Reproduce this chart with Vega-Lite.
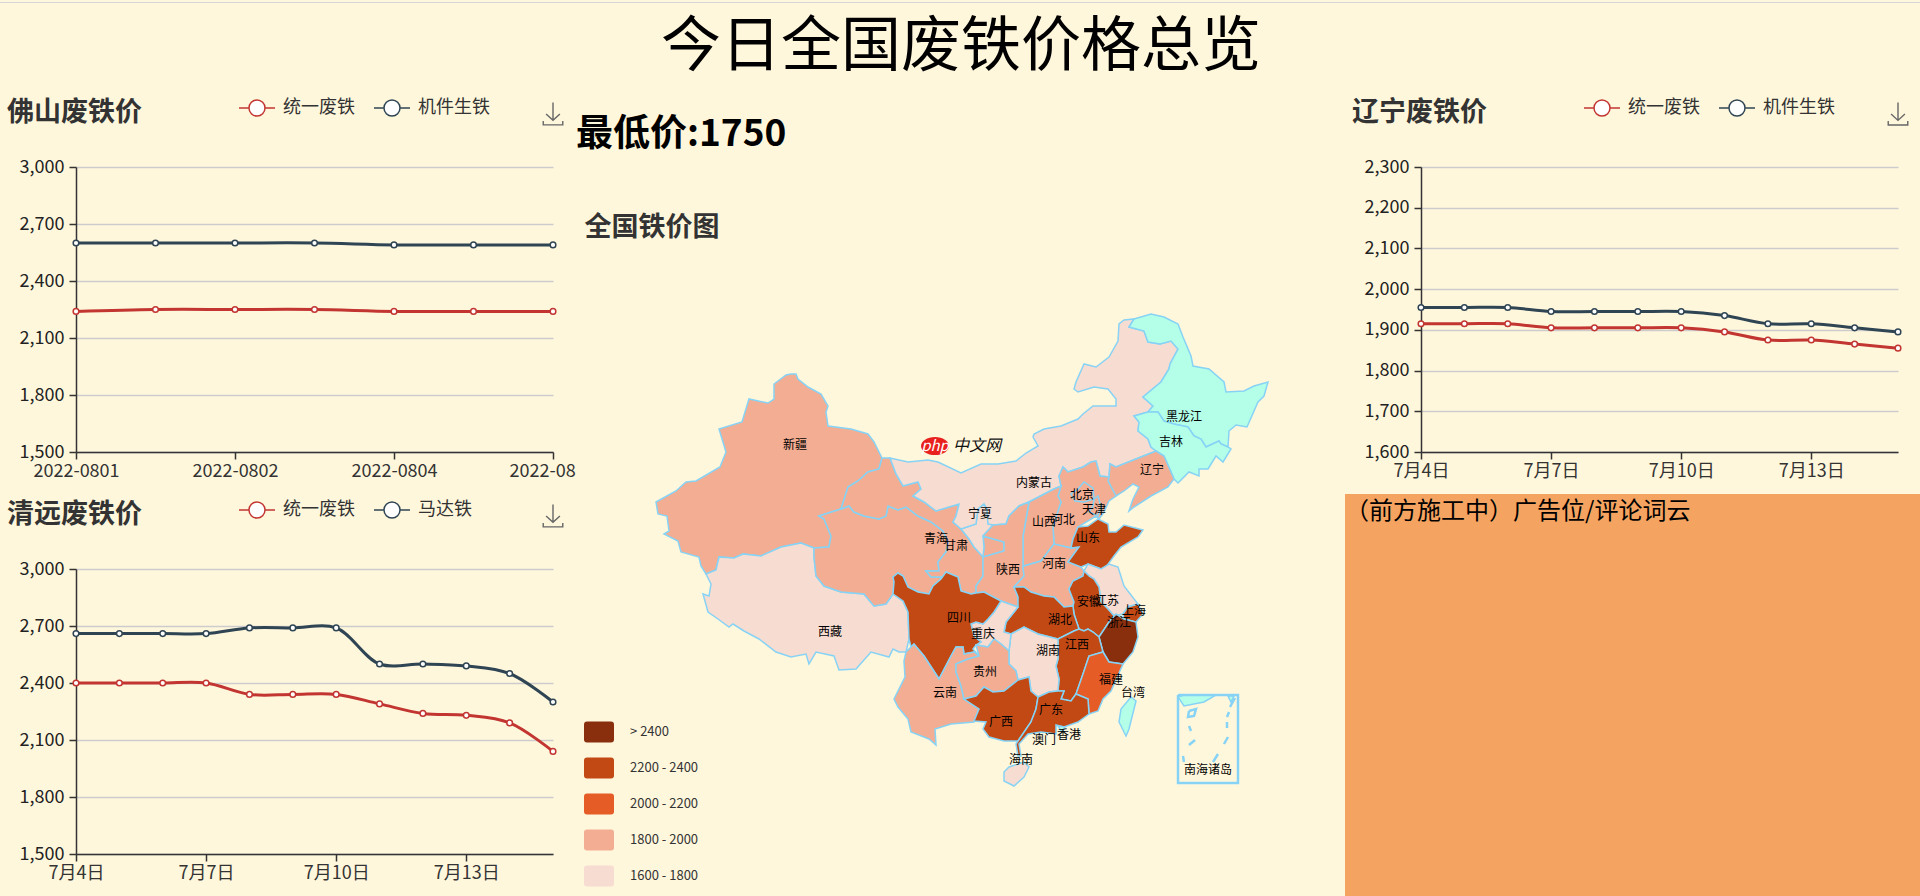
{"$schema":"https://vega.github.io/schema/vega-lite/v6.json","background":"#fff7dc","padding":{"left":0,"top":-4,"right":0,"bottom":0},"config":{"font":"Noto Sans CJK SC","view":{"stroke":null},"title":{"font":"Noto Sans CJK SC"},"axis":{"labelFont":"Noto Sans CJK SC"},"legend":{"labelFont":"Noto Sans CJK SC"},"concat":{"spacing":0}},
"datasets":{
"foshan":[{"d":"2022-0801","s":"统一废铁","p":2240},{"d":"2022-0801-2","s":"统一废铁","p":2250},{"d":"2022-0802","s":"统一废铁","p":2250},{"d":"2022-0803","s":"统一废铁","p":2250},{"d":"2022-0804","s":"统一废铁","p":2240},{"d":"2022-0805","s":"统一废铁","p":2240},{"d":"2022-0806","s":"统一废铁","p":2240},{"d":"2022-0801","s":"机件生铁","p":2600},{"d":"2022-0801-2","s":"机件生铁","p":2600},{"d":"2022-0802","s":"机件生铁","p":2600},{"d":"2022-0803","s":"机件生铁","p":2600},{"d":"2022-0804","s":"机件生铁","p":2590},{"d":"2022-0805","s":"机件生铁","p":2590},{"d":"2022-0806","s":"机件生铁","p":2590}],
"qingyuan":[{"d":"7月4日","s":"统一废铁","p":2400},{"d":"7月5日","s":"统一废铁","p":2400},{"d":"7月6日","s":"统一废铁","p":2400},{"d":"7月7日","s":"统一废铁","p":2400},{"d":"7月8日","s":"统一废铁","p":2340},{"d":"7月9日","s":"统一废铁","p":2340},{"d":"7月10日","s":"统一废铁","p":2340},{"d":"7月11日","s":"统一废铁","p":2290},{"d":"7月12日","s":"统一废铁","p":2240},{"d":"7月13日","s":"统一废铁","p":2230},{"d":"7月14日","s":"统一废铁","p":2190},{"d":"7月15日","s":"统一废铁","p":2040},{"d":"7月4日","s":"马达铁","p":2660},{"d":"7月5日","s":"马达铁","p":2660},{"d":"7月6日","s":"马达铁","p":2660},{"d":"7月7日","s":"马达铁","p":2660},{"d":"7月8日","s":"马达铁","p":2690},{"d":"7月9日","s":"马达铁","p":2690},{"d":"7月10日","s":"马达铁","p":2690},{"d":"7月11日","s":"马达铁","p":2500},{"d":"7月12日","s":"马达铁","p":2500},{"d":"7月13日","s":"马达铁","p":2490},{"d":"7月14日","s":"马达铁","p":2450},{"d":"7月15日","s":"马达铁","p":2300}],
"liaoning":[{"d":"7月4日","s":"统一废铁","p":1915},{"d":"7月5日","s":"统一废铁","p":1915},{"d":"7月6日","s":"统一废铁","p":1915},{"d":"7月7日","s":"统一废铁","p":1905},{"d":"7月8日","s":"统一废铁","p":1905},{"d":"7月9日","s":"统一废铁","p":1905},{"d":"7月10日","s":"统一废铁","p":1905},{"d":"7月11日","s":"统一废铁","p":1895},{"d":"7月12日","s":"统一废铁","p":1875},{"d":"7月13日","s":"统一废铁","p":1875},{"d":"7月14日","s":"统一废铁","p":1865},{"d":"7月15日","s":"统一废铁","p":1855},{"d":"7月4日","s":"机件生铁","p":1955},{"d":"7月5日","s":"机件生铁","p":1955},{"d":"7月6日","s":"机件生铁","p":1955},{"d":"7月7日","s":"机件生铁","p":1945},{"d":"7月8日","s":"机件生铁","p":1945},{"d":"7月9日","s":"机件生铁","p":1945},{"d":"7月10日","s":"机件生铁","p":1945},{"d":"7月11日","s":"机件生铁","p":1935},{"d":"7月12日","s":"机件生铁","p":1915},{"d":"7月13日","s":"机件生铁","p":1915},{"d":"7月14日","s":"机件生铁","p":1905},{"d":"7月15日","s":"机件生铁","p":1895}],
"provinces":[
{"type":"Feature","properties":{"name":"新疆","range":"1800 - 2000"},"geometry":{"type":"Polygon","coordinates":[[[87.1,65.3],[86.6,65.2],[85.4,64.3],[85.4,62.8],[84.8,62.4],[82.9,62.8],[82.2,60.5],[79.9,59.8],[80.6,57.5],[80,56],[77.6,54.6],[76.6,54.5],[75.6,53.6],[73.6,52.5],[73.8,51.3],[74.7,51.1],[74.9,49.6],[74.4,49.3],[75.8,48.6],[76.1,47.5],[77.9,47],[78.1,46.1],[78.6,45.3],[79.6,45.7],[79.9,47],[81.4,46.9],[82.3,47.3],[84.1,47.1],[86.1,48],[88.1,48.4],[89.4,47.9],[90.9,48],[91.1,49.1],[90.4,50.8],[89.9,51.1],[92.1,51.8],[92.8,54],[93.8,54.6],[94.8,55.5],[95.9,55.8],[96.2,56.9],[95.4,58.5],[94.8,59.3],[93.1,59.8],[90.8,60.1],[90.6,61.5],[90.8,62.1],[90.1,63.3],[88.8,64],[87.8,64.8],[87.6,65.3],[87.1,65.3]]]}},
{"type":"Feature","properties":{"name":"西藏","range":"1600 - 1800"},"geometry":{"type":"Polygon","coordinates":[[[78.6,45.3],[79.6,45.7],[79.9,47],[81.4,46.9],[82.3,47.3],[84.1,47.1],[86.1,48],[88.1,48.4],[89.4,47.9],[89.4,47],[89.6,45.1],[90.4,44.1],[92.1,43.5],[94.4,43.3],[95.4,42.1],[96.6,42.3],[97.3,43.3],[98.3,42.6],[98.8,41.5],[98.9,38.8],[98.6,37.5],[97.9,37.5],[97.3,37.8],[96.9,37],[95.1,37.5],[93.6,35.8],[91.9,35.7],[91.4,37.1],[89.6,37.5],[88.9,36.3],[88.6,37.3],[87.1,37],[85.6,37.5],[83.9,38.8],[82.4,39.6],[81.3,40.3],[80.9,40],[79.8,40.8],[78.8,41.5],[78.3,43.3],[78.9,43.1],[79.1,44.3],[78.6,45.3]]]}},
{"type":"Feature","properties":{"name":"青海","range":"1800 - 2000"},"geometry":{"type":"Polygon","coordinates":[[[89.9,51.1],[92.1,51.8],[92.9,52.1],[93.4,51.5],[94.4,51.1],[95.9,50.8],[96.6,51.1],[96.8,52.1],[97.8,51.7],[98.6,52],[99.8,51.1],[101.1,50.5],[102.3,49.6],[102.8,48.5],[102.6,47.5],[101.8,46.5],[101.9,45.6],[100.6,45.6],[101.1,45],[102.3,45],[102.6,45.5],[102.1,44.8],[101.3,44.1],[100.9,43.3],[99.8,43.5],[98.8,44],[98.3,45.1],[97.8,45.4],[97.3,45],[97.4,44.5],[97.3,43.3],[96.6,42.3],[95.4,42.1],[94.4,43.3],[92.1,43.5],[90.4,44.1],[89.6,45.1],[89.4,47],[89.4,47.9],[90.9,48],[91.1,49.1],[90.4,50.8],[89.9,51.1]]]}},
{"type":"Feature","properties":{"name":"甘肃","range":"1800 - 2000"},"geometry":{"type":"Polygon","coordinates":[[[96.2,56.9],[97,56.9],[97.6,55.3],[98.3,54.1],[99.8,54.5],[100.1,53.8],[99.3,53.1],[100.4,52.5],[101.6,51.6],[102.9,52],[103.9,52.3],[103.6,51.1],[103.3,50.5],[104.1,49.8],[104.9,48.8],[105.4,48],[106.3,47],[106.4,48],[106.3,49.1],[108.4,48.5],[108.4,47.6],[106.3,47],[106.3,45.1],[105.6,44.1],[105.6,43.4],[105.1,43.3],[104.1,43.6],[103.8,45],[102.6,45.5],[102.3,45],[101.1,45],[100.6,45.6],[101.9,45.6],[101.8,46.5],[102.6,47.5],[102.8,48.5],[102.3,49.6],[101.1,50.5],[99.8,51.1],[98.6,52],[97.8,51.7],[96.8,52.1],[96.6,51.1],[95.9,50.8],[94.4,51.1],[93.4,51.5],[92.9,52.1],[92.1,51.8],[92.8,54],[93.8,54.6],[94.8,55.5],[95.9,55.8],[96.2,56.9]]]}},
{"type":"Feature","properties":{"name":"宁夏","range":"1600 - 1800"},"geometry":{"type":"Polygon","coordinates":[[[106.4,52.3],[106.7,51.8],[106.8,50.3],[107.3,50.2],[106.3,49.1],[106.4,48],[106.3,47],[105.4,48],[104.9,48.8],[104.1,49.8],[105.6,50.3],[105.8,51.8],[106.4,52.3]]]}},
{"type":"Feature","properties":{"name":"内蒙古","range":"1600 - 1800"},"geometry":{"type":"Polygon","coordinates":[[[123.6,57.6],[123.1,58],[122.8,58.8],[121.8,59.6],[121.9,60.5],[121.4,61.1],[122.8,61.5],[123.3,62.1],[122.3,63],[124.1,64.5],[124.9,65.8],[125,66.3],[125.8,67.8],[125.1,68.6],[124,68.3],[122.8,68.5],[122.4,69.6],[120.9,70],[121.4,70.8],[120.4,70.7],[119.9,70.3],[119.8,68.6],[118.9,67],[117.6,66],[116.4,66.3],[115.6,64.5],[115.4,63.8],[115.8,63.5],[117.4,64],[118.8,63.8],[119.6,62.8],[119.6,62.1],[118.8,62.1],[117.3,62.1],[116.3,61.3],[115.8,60.8],[114.1,60.1],[112.4,59.8],[111.4,59.3],[111.3,59],[111.8,58.1],[110.6,57.4],[109.6,56.6],[107.8,56.3],[106.1,56.3],[104.1,55.4],[101.8,56.5],[100.8,56.7],[98.8,56.5],[97,56.9],[97.6,55.3],[98.3,54.1],[99.8,54.5],[100.1,53.8],[99.3,53.1],[100.4,52.5],[101.6,51.6],[102.9,52],[103.9,52.3],[103.6,51.1],[103.3,50.5],[104.1,49.8],[105.6,50.3],[105.8,51.8],[106.4,52.3],[106.7,51.8],[106.8,50.3],[107.3,50.2],[108.6,50.3],[108.9,51.1],[109.9,52.1],[110.9,52.5],[113.4,53.8],[114.1,54.1],[113.9,55.1],[114.3,56],[114.8,55.5],[116.3,56],[117.1,56.5],[117.6,56.6],[118,55.1],[118.9,55],[119,56.3],[119.6,56],[121.6,56.8],[123.6,57.6]]]}},
{"type":"Feature","properties":{"name":"黑龙江","range":"无数据"},"geometry":{"type":"Polygon","coordinates":[[[121.4,70.8],[123.1,71.3],[124.4,71],[125.8,70.3],[126.3,69],[127.1,67.1],[127.3,66.1],[128.9,65.8],[130.4,64.5],[130.6,63.5],[132.4,63.6],[133.4,64.1],[134.8,64.5],[134.4,63.1],[133.8,62.5],[132.7,60],[131.6,60.2],[130.9,59.6],[130.8,58],[130.1,58.3],[129.9,58.6],[128.6,58],[128.1,58.8],[127.4,59.1],[126.8,60],[125.4,60.3],[124.4,60.6],[123.8,61.5],[122.8,61.5],[123.3,62.1],[122.3,63],[124.1,64.5],[124.9,65.8],[125,66.3],[125.8,67.8],[125.1,68.6],[124,68.3],[122.8,68.5],[122.4,69.6],[120.9,70],[121.4,70.8]]]}},
{"type":"Feature","properties":{"name":"吉林","range":"无数据"},"geometry":{"type":"Polygon","coordinates":[[[122.8,61.5],[123.8,61.5],[124.4,60.6],[125.4,60.3],[126.8,60],[127.4,59.1],[128.1,58.8],[128.6,58],[129.9,58.6],[130.1,58.3],[130.8,58],[131.1,57.8],[130.3,56.5],[129.6,57.1],[128.8,55.8],[127.9,55.8],[127.9,55.1],[126.9,55.5],[125.8,54.4],[125.4,54.8],[124.4,57.1],[123.6,57.6],[123.1,58],[122.8,58.8],[121.8,59.6],[121.9,60.5],[121.4,61.1],[122.8,61.5]]]}},
{"type":"Feature","properties":{"name":"辽宁","range":"1800 - 2000"},"geometry":{"type":"Polygon","coordinates":[[[123.6,57.6],[124.4,57.1],[125.4,54.8],[124.8,54],[123.1,53.1],[121.4,52],[120.9,51.6],[121.3,52.8],[121.9,54],[121.3,54.3],[120.4,53.6],[119.6,53.1],[118.8,54.6],[118.9,55],[119,56.3],[119.6,56],[121.6,56.8],[123.6,57.6]]]}},
{"type":"Feature","properties":{"name":"河北","range":"1800 - 2000"},"geometry":{"type":"Polygon","coordinates":[[[117.1,56.5],[117.6,56.6],[118,55.1],[118.9,55],[118.8,54.6],[119.6,53.1],[118.9,52.6],[118.4,51.5],[117.9,50.8],[117.6,51.1],[115.8,50],[115.3,48.8],[115.1,47.9],[113.4,48.3],[113.3,50.1],[114.1,52.5],[113.8,53.1],[114.1,54.1],[113.9,55.1],[114.3,56],[114.8,55.5],[116.3,56],[117.1,56.5]]]}},
{"type":"Feature","properties":{"name":"北京","range":"1800 - 2000"},"geometry":{"type":"Polygon","coordinates":[[[115.8,53.8],[116.4,54.5],[117.3,53.9],[117.4,52.8],[116.4,52.5],[115.5,52.6],[115.1,53.3],[115.8,53.8]]]}},
{"type":"Feature","properties":{"name":"天津","range":"1800 - 2000"},"geometry":{"type":"Polygon","coordinates":[[[117.4,52.8],[117.8,53.1],[118.1,52],[117.8,51.1],[116.9,51.5],[117.3,52.1],[117.4,52.8]]]}},
{"type":"Feature","properties":{"name":"山西","range":"1800 - 2000"},"geometry":{"type":"Polygon","coordinates":[[[110.9,52.5],[113.4,53.8],[114.1,54.1],[113.8,53.1],[114.1,52.5],[113.3,50.1],[113.4,48.3],[112.1,46.6],[110.4,46.1],[110.3,46],[110.3,49.1],[110.9,52.5]]]}},
{"type":"Feature","properties":{"name":"陕西","range":"1800 - 2000"},"geometry":{"type":"Polygon","coordinates":[[[110.9,52.5],[109.9,52.1],[108.9,51.1],[108.6,50.3],[107.3,50.2],[106.3,49.1],[108.4,48.5],[108.4,47.6],[106.3,47],[106.3,45.1],[105.6,44.1],[105.6,43.4],[106.4,43.5],[108.1,42.6],[109.8,42],[109.8,43],[109.4,44],[110.4,45.1],[110.3,46],[110.3,49.1],[110.9,52.5]]]}},
{"type":"Feature","properties":{"name":"河南","range":"1800 - 2000"},"geometry":{"type":"Polygon","coordinates":[[[110.3,46],[110.4,46.1],[112.1,46.6],[113.4,48.3],[115.1,47.9],[115.9,48],[114.8,46.5],[116.1,46],[116.4,45.6],[116.3,45.1],[115.3,44.6],[114.9,43.8],[115.4,42.5],[115.3,42.1],[114.4,42],[113.4,43],[112.4,43.1],[111.1,43.5],[110.4,44],[109.4,44],[110.4,45.1],[110.3,46]]]}},
{"type":"Feature","properties":{"name":"山东","range":"2200 - 2400"},"geometry":{"type":"Polygon","coordinates":[[[117.8,50.8],[118.8,50.3],[118.9,49.5],[119.6,49.5],[120.4,50.2],[122.3,49.7],[121.8,49],[120.1,48],[119.4,47.1],[118.6,46],[118.1,45.8],[116.8,46.3],[116.1,46],[114.8,46.5],[115.9,48],[115.1,47.9],[115.3,48.8],[115.8,50],[116.8,50.1],[117.8,50.8]]]}},
{"type":"Feature","properties":{"name":"江苏","range":"1600 - 1800"},"geometry":{"type":"Polygon","coordinates":[[[116.4,45.6],[116.8,46.3],[118.1,45.8],[118.9,46.3],[119.8,46],[120.4,44.1],[121.8,42.3],[120.8,42],[120.3,41.3],[119.4,41.1],[118.8,41.8],[118.1,42.5],[117.9,44],[117.4,44.8],[116.9,45.1],[116.4,45.6]]]}},
{"type":"Feature","properties":{"name":"上海","range":"2200 - 2400"},"geometry":{"type":"Polygon","coordinates":[[[120.3,41.3],[120.8,42],[121.8,42.3],[122.3,41.3],[121.6,40.5],[120.4,40.8],[120.3,41.3]]]}},
{"type":"Feature","properties":{"name":"安徽","range":"2200 - 2400"},"geometry":{"type":"Polygon","coordinates":[[[116.4,45.6],[116.9,45.1],[117.4,44.8],[117.9,44],[118.1,42.5],[118.8,41.8],[119.4,41.1],[119.6,41.3],[118.9,40.5],[117.9,39],[117.3,39.5],[116.8,39.8],[116.4,39.6],[115.9,39.8],[115.4,41.3],[115.3,42.1],[115.4,42.5],[114.9,43.8],[115.3,44.6],[116.3,45.1],[116.4,45.6]]]}},
{"type":"Feature","properties":{"name":"湖北","range":"2200 - 2400"},"geometry":{"type":"Polygon","coordinates":[[[109.8,42],[109.8,43],[109.4,44],[110.4,44],[111.1,43.5],[112.4,43.1],[113.4,43],[114.4,42],[115.3,42.1],[115.4,41.3],[115.9,39.8],[115.4,39.6],[113.8,38.8],[111.8,39.3],[110.4,40],[109.1,39.3],[108.4,39.5],[108.6,40.5],[109.8,42]]]}},
{"type":"Feature","properties":{"name":"浙江","range":"> 2400"},"geometry":{"type":"Polygon","coordinates":[[[117.9,39],[118.9,40.5],[119.6,41.3],[120.4,40.8],[121.6,40.5],[121.8,39],[121.3,37.5],[120.3,36.3],[118.9,36.5],[118.3,37.5],[117.9,39]]]}},
{"type":"Feature","properties":{"name":"江西","range":"2200 - 2400"},"geometry":{"type":"Polygon","coordinates":[[[113.8,38.8],[115.4,39.6],[115.9,39.8],[116.4,39.6],[116.8,39.8],[117.3,39.5],[117.9,39],[118.3,37.5],[116.9,37.1],[116.3,35.3],[115.6,33.3],[115.1,32.6],[114.1,32.8],[114.4,33.6],[113.8,33.6],[113.9,34.8],[113.6,36.1],[113.8,36.8],[113.8,38.8]]]}},
{"type":"Feature","properties":{"name":"福建","range":"2000 - 2200"},"geometry":{"type":"Polygon","coordinates":[[[118.3,37.5],[118.9,36.5],[120.3,36.3],[119.1,33.6],[118.3,32.8],[117.8,31.6],[116.9,31.3],[116.8,32.8],[115.6,33.3],[116.3,35.3],[116.9,37.1],[118.3,37.5]]]}},
{"type":"Feature","properties":{"name":"湖南","range":"1600 - 1800"},"geometry":{"type":"Polygon","coordinates":[[[109.1,39.3],[110.4,40],[111.8,39.3],[113.8,38.8],[113.8,36.8],[113.6,36.1],[113.9,34.8],[113.8,33.6],[112.9,33.5],[111.8,33],[111.1,33.6],[110.9,35],[109.8,34.7],[109.6,35.6],[108.9,36.3],[108.9,37.6],[109.1,39.3]]]}},
{"type":"Feature","properties":{"name":"重庆","range":"1600 - 1800"},"geometry":{"type":"Polygon","coordinates":[[[108.1,42.6],[109.8,42],[108.6,40.5],[108.4,39.5],[109.1,39.3],[108.9,37.6],[108.1,38.3],[107.4,38.8],[106.8,38],[105.6,38.2],[106.1,38.5],[105.4,39.1],[105.1,40.3],[105.6,40.5],[106.3,40.3],[106.8,40.8],[107.4,41.5],[108.1,42.6]]]}},
{"type":"Feature","properties":{"name":"四川","range":"2200 - 2400"},"geometry":{"type":"Polygon","coordinates":[[[97.3,43.3],[97.4,44.5],[97.3,45],[97.8,45.4],[98.3,45.1],[98.8,44],[99.8,43.5],[100.9,43.3],[101.3,44.1],[102.1,44.8],[102.6,45.5],[103.8,45],[104.1,43.6],[105.1,43.3],[105.6,43.4],[106.4,43.5],[108.1,42.6],[107.4,41.5],[106.8,40.8],[106.3,40.3],[105.6,40.5],[105.1,40.3],[105.4,39.1],[106.1,38.5],[105.6,38.2],[105.3,37.8],[105.9,37.1],[105.4,37.5],[104.4,37.3],[104.3,38],[103.6,38],[103.1,37.1],[101.9,34.8],[100.4,37.1],[99.4,38.3],[99.1,38],[98.9,38.8],[98.8,41.5],[98.3,42.6],[97.3,43.3]]]}},
{"type":"Feature","properties":{"name":"云南","range":"1800 - 2000"},"geometry":{"type":"Polygon","coordinates":[[[99.1,38],[98.6,37.5],[98.4,36.6],[98.5,35],[97.4,32.8],[97.8,32],[98.8,30.8],[99.1,29.5],[100.9,28.8],[101.6,28.2],[101.5,29.8],[103.1,30.3],[105.4,30.5],[105.9,31.8],[104.4,32.8],[104.1,34.1],[103.6,35.5],[103.6,36.3],[104.8,36.8],[105.9,37.1],[105.4,37.5],[104.4,37.3],[104.3,38],[103.6,38],[103.1,37.1],[101.9,34.8],[100.4,37.1],[99.4,38.3],[99.1,38]]]}},
{"type":"Feature","properties":{"name":"贵州","range":"1800 - 2000"},"geometry":{"type":"Polygon","coordinates":[[[105.9,37.1],[105.6,38.2],[106.8,38],[107.4,38.8],[108.1,38.3],[108.9,37.6],[108.9,36.3],[109.6,35.6],[109.8,34.7],[108.4,33.6],[107.3,33.5],[106.4,34],[105.6,33.1],[104.4,32.8],[104.1,34.1],[103.6,35.5],[103.6,36.3],[104.8,36.8],[105.9,37.1]]]}},
{"type":"Feature","properties":{"name":"广西","range":"2200 - 2400"},"geometry":{"type":"Polygon","coordinates":[[[104.4,32.8],[105.6,33.1],[106.4,34],[107.3,33.5],[108.4,33.6],[109.8,34.7],[110.9,35],[111.1,33.6],[111.8,33],[111.6,31.8],[111.1,30.5],[109.8,28.6],[108.4,28.6],[106.9,29],[106.3,29.8],[106.6,30.5],[105.4,30.6],[105.9,31.8],[104.4,32.8]]]}},
{"type":"Feature","properties":{"name":"广东","range":"2200 - 2400"},"geometry":{"type":"Polygon","coordinates":[[[111.8,33],[112.9,33.5],[113.8,33.6],[114.4,33.6],[114.1,32.8],[115.1,32.6],[115.6,33.3],[116.8,32.8],[116.9,31.3],[115.8,30.5],[114.4,30],[113.6,30.2],[113.6,29.3],[112.1,29.5],[110.8,29.3],[109.9,28.3],[110.1,27.1],[109.8,27.1],[109.6,28.3],[109.8,28.6],[111.1,30.5],[111.6,31.8],[111.8,33]]]}},
{"type":"Feature","properties":{"name":"海南","range":"1600 - 1800"},"geometry":{"type":"Polygon","coordinates":[[[108.9,26],[110.4,26.5],[110.9,26],[110.4,25],[109.4,24.1],[108.4,24.6],[108.4,25.5],[108.9,26]]]}},
{"type":"Feature","properties":{"name":"台湾","range":"无数据"},"geometry":{"type":"Polygon","coordinates":[[[121.1,33],[121.6,32.6],[120.9,29.8],[120.6,29.1],[119.9,30.5],[120.1,31.8],[121.1,33]]]}},
{"type":"Feature","properties":{"name":"香港","range":"无数据"},"geometry":{"type":"Polygon","coordinates":[[[113.8,30.1],[114.5,30],[114.2,29.5],[113.8,30.1]]]}},
{"type":"Feature","properties":{"name":"南海诸岛","range":"无数据"},"geometry":{"type":"MultiPolygon","coordinates":[[[[125.8,33],[126.4,33.2],[129.6,33.2],[128.4,32.5],[126.4,32.1],[125.8,33]]],[[[130.8,33.1],[131.4,33.1],[131.1,32.5],[130.8,33.1]]]]}}
],
"sealines":[{"type":"Feature","properties":{"name":"框"},"geometry":{"type":"LineString","coordinates":[[125.8,33.2],[131.8,33.2],[131.8,24.4],[125.8,24.4],[125.8,33.2]]}},
{"type":"Feature","properties":{"name":"岛"},"geometry":{"type":"MultiLineString","coordinates":[[[126.9,31.6],[127.6,31.8],[127.4,31.1],[126.8,31],[126.9,31.6]],[[126.9,30.1],[127.1,29.6]],[[127.5,28.7],[126.9,28.2]],[[126.3,27.1],[126.4,26.5]],[[129.8,27.3],[129.3,26.5]],[[131.5,32.9],[131,32]],[[130.9,31.5],[130.7,31]],[[130.7,30.5],[130.7,29.9]],[[130.8,29],[130.4,28.3]]]}}],
"labels":[{"name":"新疆","lon":87.5,"lat":58.2},{"name":"青海","lon":101.6,"lat":48.8},{"name":"甘肃","lon":103.6,"lat":48.1},{"name":"宁夏","lon":106,"lat":51.3},{"name":"内蒙古","lon":111.4,"lat":54.4},{"name":"北京","lon":116.2,"lat":53.2},{"name":"天津","lon":117.4,"lat":51.7},{"name":"山西","lon":112.4,"lat":50.5},{"name":"河北","lon":114.3,"lat":50.7},{"name":"山东","lon":116.8,"lat":48.9},{"name":"河南","lon":113.4,"lat":46.3},{"name":"陕西","lon":108.8,"lat":45.7},{"name":"辽宁","lon":123.2,"lat":55.7},{"name":"吉林","lon":125.1,"lat":58.5},{"name":"黑龙江","lon":126.4,"lat":61},{"name":"西藏","lon":91,"lat":39.5},{"name":"四川","lon":103.9,"lat":40.9},{"name":"重庆","lon":106.3,"lat":39.3},{"name":"贵州","lon":106.5,"lat":35.5},{"name":"云南","lon":102.5,"lat":33.4},{"name":"广西","lon":108.1,"lat":30.5},{"name":"广东","lon":113.1,"lat":31.7},{"name":"澳门","lon":112.4,"lat":28.7},{"name":"香港","lon":114.9,"lat":29.2},{"name":"海南","lon":110.1,"lat":26.7},{"name":"台湾","lon":121.3,"lat":33.4},{"name":"福建","lon":119.1,"lat":34.7},{"name":"江西","lon":115.7,"lat":38.2},{"name":"湖南","lon":112.8,"lat":37.6},{"name":"湖北","lon":114,"lat":40.7},{"name":"安徽","lon":116.9,"lat":42.5},{"name":"江苏","lon":118.7,"lat":42.6},{"name":"上海","lon":121.4,"lat":41.6},{"name":"浙江","lon":119.9,"lat":40.4},{"name":"南海诸岛","lon":128.8,"lat":25.7}]
},
"bounds":"flush","spacing":164,"resolve":{"scale":{"stroke":"independent","color":"independent"},"legend":{"stroke":"independent","color":"independent"}},
"vconcat":[
{"width":1920,"height":1,"view":{"fill":"#d4d4da","stroke":null},"title":{"text":"今日全国废铁价格总览","orient":"bottom","anchor":"middle","fontSize":60,"fontWeight":"normal","color":"#000","offset":11,"dx":1},"data":{"values":[{"t":""}]},"mark":{"type":"text"},"encoding":{"text":{"field":"t"}}},
{"spacing":0,"resolve":{"scale":{"stroke":"independent","color":"independent"},"legend":{"stroke":"independent","color":"independent"}},"hconcat":[
{"width":7,"height":10,"data":{"values":[{"t":""}]},"mark":{"type":"text"},"encoding":{"text":{"field":"t"}}},
{"bounds":"flush","spacing":117,"resolve":{"scale":{"stroke":"independent","color":"independent"},"legend":{"stroke":"independent","color":"independent"}},"vconcat":[
{"width":477,"height":285,"title":{"text":"佛山废铁价","anchor":"start","frame":"group","dx":-69,"offset":4,"dy":32,"fontSize":27,"fontWeight":"bold","color":"#333"},
"layer":[
{"data":{"name":"foshan"},"mark":{"type":"line","interpolate":"catmull-rom","strokeWidth":3},"encoding":{"x":{"field":"d","type":"ordinal","scale":{"type":"point","padding":0,"domain":["2022-0801","2022-0801-2","2022-0802","2022-0803","2022-0804","2022-0805","2022-0806"]},"axis":{"values":["2022-0801","2022-0802","2022-0804","2022-0806"],"labelExpr":"datum.value === '2022-0806' ? '2022-08' : datum.label","labelAlign":{"condition":{"test":"datum.value === '2022-0806'","value":"left"},"value":"center"},"labelOffset":{"condition":{"test":"datum.value === '2022-0806'","value":-44},"value":0},"title":null,"labelAngle":0,"labelFontSize":18,"labelColor":"#333","domainColor":"#333","domainWidth":1.5,"tickColor":"#333","tickWidth":1.5,"tickSize":7,"labelPadding":3,"grid":false,"labelOverlap":false,"labelBound":false}},"y":{"field":"p","type":"quantitative","scale":{"domain":[1500,3000],"nice":false,"zero":false},"axis":{"values":[1500,1800,2100,2400,2700,3000],"format":",d","title":null,"labelFontSize":18,"labelColor":"#222","domainColor":"#333","domainWidth":1.5,"tickColor":"#333","tickWidth":1.5,"tickSize":7,"labelPadding":5,"grid":true,"gridColor":"#ccc","gridWidth":1.5}},"stroke":{"field":"s","type":"nominal","scale":{"domain":["统一废铁","机件生铁"],"range":["#c23531","#2f4554"]},"legend":{"orient":"none","legendX":172,"legendY":-68,"direction":"horizontal","title":null,"labelFontSize":18,"labelColor":"#333","labelOffset":17,"columnPadding":16,"symbolSize":256,"symbolStrokeWidth":1.5,"symbolFillColor":"#fff","symbolType":"M-2.25,0H-1M1,0H2.25M1,0A1,1 0 1 1 -1,0A1,1 0 1 1 1,0","padding":0}}}},
{"data":{"name":"foshan"},"mark":{"type":"point","filled":false,"fill":"#fff","size":32,"strokeWidth":1.5,"opacity":1},"encoding":{"x":{"field":"d","type":"ordinal"},"y":{"field":"p","type":"quantitative"},"stroke":{"field":"s","type":"nominal","legend":null}}},
{"data":{"values":[{"t":"下载"}]},"mark":{"type":"point","shape":"M0,-1V0.5M-0.6,0L0,0.55L0.6,0M-0.85,0.6V0.95H0.85V0.6","size":529,"fill":null,"stroke":"#666","strokeWidth":1.4,"opacity":1},"encoding":{"x":{"datum":"2022-0806"},"y":{"datum":3279}}}
]},
{"width":477,"height":285,"title":{"text":"清远废铁价","anchor":"start","frame":"group","dx":-69,"offset":4,"dy":32,"fontSize":27,"fontWeight":"bold","color":"#333"},
"layer":[
{"data":{"name":"qingyuan"},"mark":{"type":"line","interpolate":"catmull-rom","strokeWidth":3},"encoding":{"x":{"field":"d","type":"ordinal","scale":{"type":"point","padding":0.0001,"domain":["7月4日","7月5日","7月6日","7月7日","7月8日","7月9日","7月10日","7月11日","7月12日","7月13日","7月14日","7月15日"]},"axis":{"values":["7月4日","7月7日","7月10日","7月13日"],"title":null,"labelAngle":0,"labelFontSize":18,"labelColor":"#333","domainColor":"#333","domainWidth":1.5,"tickColor":"#333","tickWidth":1.5,"tickSize":7,"labelPadding":3,"grid":false,"labelOverlap":false,"labelBound":false}},"y":{"field":"p","type":"quantitative","scale":{"domain":[1500,3000],"nice":false,"zero":false},"axis":{"values":[1500,1800,2100,2400,2700,3000],"format":",d","title":null,"labelFontSize":18,"labelColor":"#222","domainColor":"#333","domainWidth":1.5,"tickColor":"#333","tickWidth":1.5,"tickSize":7,"labelPadding":5,"grid":true,"gridColor":"#ccc","gridWidth":1.5}},"stroke":{"field":"s","type":"nominal","scale":{"domain":["统一废铁","马达铁"],"range":["#c23531","#2f4554"]},"legend":{"orient":"none","legendX":172,"legendY":-68,"direction":"horizontal","title":null,"labelFontSize":18,"labelColor":"#333","labelOffset":17,"columnPadding":16,"symbolSize":256,"symbolStrokeWidth":1.5,"symbolFillColor":"#fff","symbolType":"M-2.25,0H-1M1,0H2.25M1,0A1,1 0 1 1 -1,0A1,1 0 1 1 1,0","padding":0}}}},
{"data":{"name":"qingyuan"},"mark":{"type":"point","filled":false,"fill":"#fff","size":32,"strokeWidth":1.5,"opacity":1},"encoding":{"x":{"field":"d","type":"ordinal"},"y":{"field":"p","type":"quantitative"},"stroke":{"field":"s","type":"nominal","legend":null}}},
{"data":{"values":[{"t":"下载"}]},"mark":{"type":"point","shape":"M0,-1V0.5M-0.6,0L0,0.55L0.6,0M-0.85,0.6V0.95H0.85V0.6","size":529,"fill":null,"stroke":"#666","strokeWidth":1.4,"opacity":1},"encoding":{"x":{"datum":"7月15日"},"y":{"datum":3279}}}
]}
]},
{"width":769,"height":728,"view":{"fill":"#fff7dc","stroke":null},"title":{"text":"最低价:1750","anchor":"start","frame":"group","dx":0,"offset":13,"fontSize":37,"fontWeight":"bold","color":"#000"},
"layer":[
{"data":{"name":"provinces"},"mark":{"type":"geoshape","stroke":"#87d3f5","strokeWidth":1.5},"projection":{"type":"identity","reflectY":true,"scale":10,"translate":[-656,860]},"encoding":{"color":{"field":"properties.range","type":"nominal","scale":{"domain":["> 2400","2200 - 2400","2000 - 2200","1800 - 2000","1600 - 1800","无数据"],"range":["#8a2f0e","#c24914","#e55c26","#f3ad92","#f7dcd2","#b3ffe8"]},"legend":{"orient":"none","legendX":8,"legendY":550,"title":null,"values":["> 2400","2200 - 2400","2000 - 2200","1800 - 2000","1600 - 1800"],"labelFontSize":13,"labelColor":"#333","labelOffset":16,"rowPadding":10,"symbolSize":900,"symbolStrokeWidth":0,"symbolOpacity":1,"symbolType":"M-0.8,-0.7H0.8Q1,-0.7 1,-0.5V0.5Q1,0.7 0.8,0.7H-0.8Q-1,0.7 -1,0.5V-0.5Q-1,-0.7 -0.8,-0.7Z","padding":0}}}},
{"data":{"name":"sealines"},"mark":{"type":"geoshape","filled":false,"stroke":"#87d3f5","strokeWidth":2.5},"projection":{"type":"identity","reflectY":true,"scale":10,"translate":[-656,860]}},
{"data":{"name":"labels"},"mark":{"type":"text","fontSize":12,"color":"#000"},"projection":{"type":"identity","reflectY":true,"scale":10,"translate":[-656,860]},"encoding":{"longitude":{"field":"lon","type":"quantitative"},"latitude":{"field":"lat","type":"quantitative"},"text":{"field":"name"}}},
{"data":{"values":[{"name":"全国铁价图","lon":73.2,"lat":79.9}]},"mark":{"type":"text","fontSize":27,"fontWeight":"bold","color":"#333"},"projection":{"type":"identity","reflectY":true,"scale":10,"translate":[-656,860]},"encoding":{"longitude":{"field":"lon","type":"quantitative"},"latitude":{"field":"lat","type":"quantitative"},"text":{"field":"name"}}},
{"data":{"values":[{"lon":101.5,"lat":58.1}]},"mark":{"type":"point","filled":true,"fill":"#e8211e","opacity":1,"size":784,"shape":"M-1,0A1,0.65 0 1 1 1,0A1,0.65 0 1 1 -1,0Z"},"projection":{"type":"identity","reflectY":true,"scale":10,"translate":[-656,860]},"encoding":{"longitude":{"field":"lon","type":"quantitative"},"latitude":{"field":"lat","type":"quantitative"}}},
{"data":{"values":[{"name":"php","lon":101.5,"lat":58.1}]},"mark":{"type":"text","fontSize":15,"fontStyle":"italic","color":"#fff"},"projection":{"type":"identity","reflectY":true,"scale":10,"translate":[-656,860]},"encoding":{"longitude":{"field":"lon","type":"quantitative"},"latitude":{"field":"lat","type":"quantitative"},"text":{"field":"name"}}},
{"data":{"values":[{"name":"中文网","lon":105.7,"lat":58.1}]},"mark":{"type":"text","fontSize":16,"fontStyle":"italic","color":"#111"},"projection":{"type":"identity","reflectY":true,"scale":10,"translate":[-656,860]},"encoding":{"longitude":{"field":"lon","type":"quantitative"},"latitude":{"field":"lat","type":"quantitative"},"text":{"field":"name"}}}
]},
{"bounds":"flush","spacing":327,"resolve":{"scale":{"stroke":"independent","color":"independent"},"legend":{"stroke":"independent","color":"independent"}},"vconcat":[
{"bounds":"flush","spacing":0,"resolve":{"scale":{"stroke":"independent","color":"independent"},"legend":{"stroke":"independent","color":"independent"}},"hconcat":[
{"width":76,"height":10,"data":{"values":[{"t":""}]},"mark":{"type":"text"},"encoding":{"text":{"field":"t"}}},
{"width":477,"height":285,"title":{"text":"辽宁废铁价","anchor":"start","frame":"group","dx":-69,"offset":4,"dy":32,"fontSize":27,"fontWeight":"bold","color":"#333"},
"layer":[
{"data":{"name":"liaoning"},"mark":{"type":"line","interpolate":"catmull-rom","strokeWidth":3},"encoding":{"x":{"field":"d","type":"ordinal","scale":{"type":"point","padding":0.0001,"domain":["7月4日","7月5日","7月6日","7月7日","7月8日","7月9日","7月10日","7月11日","7月12日","7月13日","7月14日","7月15日"]},"axis":{"values":["7月4日","7月7日","7月10日","7月13日"],"title":null,"labelAngle":0,"labelFontSize":18,"labelColor":"#333","domainColor":"#333","domainWidth":1.5,"tickColor":"#333","tickWidth":1.5,"tickSize":7,"labelPadding":3,"grid":false,"labelOverlap":false,"labelBound":false}},"y":{"field":"p","type":"quantitative","scale":{"domain":[1600,2300],"nice":false,"zero":false},"axis":{"values":[1600,1700,1800,1900,2000,2100,2200,2300],"format":",d","title":null,"labelFontSize":18,"labelColor":"#222","domainColor":"#333","domainWidth":1.5,"tickColor":"#333","tickWidth":1.5,"tickSize":7,"labelPadding":5,"grid":true,"gridColor":"#ccc","gridWidth":1.5}},"stroke":{"field":"s","type":"nominal","scale":{"domain":["统一废铁","机件生铁"],"range":["#c23531","#2f4554"]},"legend":{"orient":"none","legendX":172,"legendY":-68,"direction":"horizontal","title":null,"labelFontSize":18,"labelColor":"#333","labelOffset":17,"columnPadding":16,"symbolSize":256,"symbolStrokeWidth":1.5,"symbolFillColor":"#fff","symbolType":"M-2.25,0H-1M1,0H2.25M1,0A1,1 0 1 1 -1,0A1,1 0 1 1 1,0","padding":0}}}},
{"data":{"name":"liaoning"},"mark":{"type":"point","filled":false,"fill":"#fff","size":32,"strokeWidth":1.5,"opacity":1},"encoding":{"x":{"field":"d","type":"ordinal"},"y":{"field":"p","type":"quantitative"},"stroke":{"field":"s","type":"nominal","legend":null}}},
{"data":{"values":[{"t":"下载"}]},"mark":{"type":"point","shape":"M0,-1V0.5M-0.6,0L0,0.55L0.6,0M-0.85,0.6V0.95H0.85V0.6","size":529,"fill":null,"stroke":"#666","strokeWidth":1.4,"opacity":1},"encoding":{"x":{"datum":"7月15日"},"y":{"datum":2430}}}
]}
]},
{"width":576,"height":402,"view":{"fill":"#f4a460","stroke":null},"data":{"values":[{"t":"（前方施工中）广告位/评论词云"}]},"mark":{"type":"text","align":"left","baseline":"middle","fontSize":24,"color":"#000"},"encoding":{"text":{"field":"t"},"x":{"value":0},"y":{"value":18}}}
]}
]}
]}
